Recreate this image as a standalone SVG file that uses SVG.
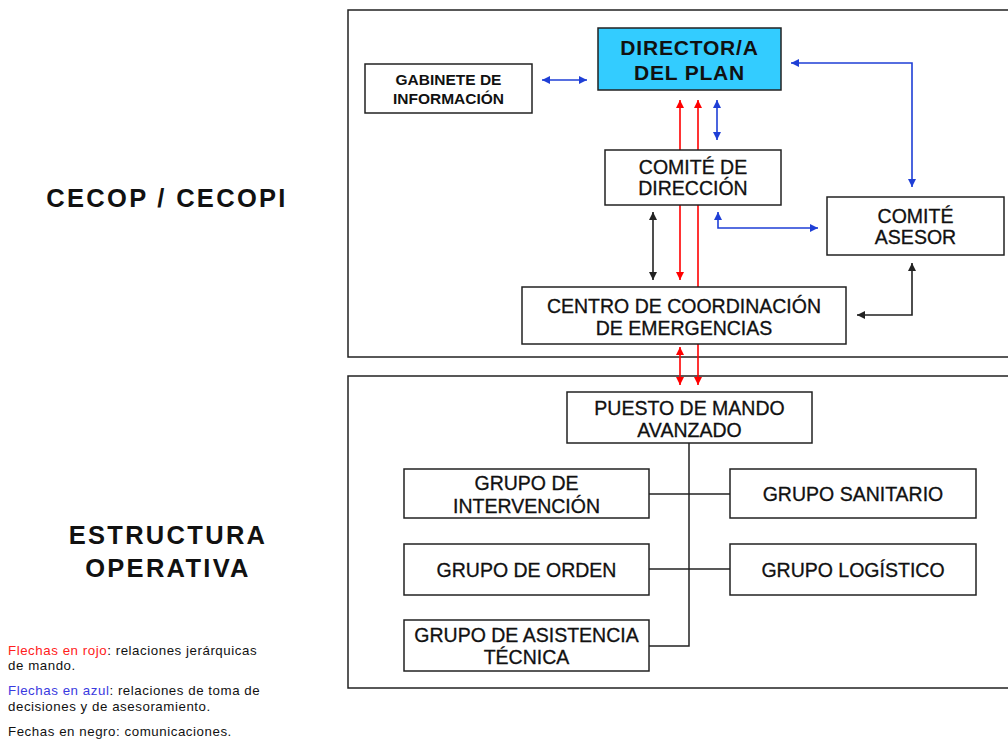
<svg xmlns="http://www.w3.org/2000/svg" width="1008" height="740" viewBox="0 0 1008 740">
<style>
.frame{fill:none;stroke:#222;stroke-width:1.5}
.box{fill:#fff;stroke:#222;stroke-width:1.5}
.dir{fill:#33ccff;stroke:#222;stroke-width:1.5}
.t{font-family:"Liberation Sans",Arial,sans-serif;font-size:19.5px;fill:#111;stroke:#111;stroke-width:0.3;text-anchor:middle}
.tb{font-family:"Liberation Sans",Arial,sans-serif;font-weight:bold;fill:#111;text-anchor:middle}
.big{font-family:"Liberation Sans",Arial,sans-serif;font-weight:bold;fill:#111;text-anchor:middle;font-size:25.5px;letter-spacing:2.3px}
.leg{font-family:"Liberation Sans",Arial,sans-serif;font-size:13.3px;letter-spacing:0.55px;fill:#111}
.red{fill:none;stroke:#ff0000;stroke-width:1.6}
.blue{fill:none;stroke:#1f3fd6;stroke-width:1.6}
.blk{fill:none;stroke:#222;stroke-width:1.6}
.tree{fill:none;stroke:#222;stroke-width:1.5}
</style>
<defs>
<marker id="ar" viewBox="0 0 10 10" refX="10" refY="5" markerWidth="8" markerHeight="8" markerUnits="userSpaceOnUse" orient="auto-start-reverse"><path d="M0,0 L10,5 L0,10 z" fill="#ff0000"/></marker>
<marker id="ab" viewBox="0 0 10 10" refX="10" refY="5" markerWidth="8" markerHeight="8" markerUnits="userSpaceOnUse" orient="auto-start-reverse"><path d="M0,0 L10,5 L0,10 z" fill="#1f3fd6"/></marker>
<marker id="ak" viewBox="0 0 10 10" refX="10" refY="5" markerWidth="8" markerHeight="8" markerUnits="userSpaceOnUse" orient="auto-start-reverse"><path d="M0,0 L10,5 L0,10 z" fill="#222"/></marker>
</defs>
<rect width="1008" height="740" fill="#fff"/>

<g id="frames">
<rect class="frame" x="348" y="10" width="670" height="347"/>
<rect class="frame" x="348" y="376" width="670" height="312"/>
</g>

<g id="side-labels">
<text class="big" x="167" y="207">CECOP / CECOPI</text>
<text class="big" x="168" y="544">ESTRUCTURA</text>
<text class="big" x="168" y="577">OPERATIVA</text>
</g>

<g id="legend">
<text class="leg" x="8" y="655"><tspan fill="#ff2020">Flechas en rojo</tspan>: relaciones jerárquicas</text>
<text class="leg" x="8" y="670">de mando.</text>
<text class="leg" x="8" y="695"><tspan fill="#3a3ae0">Flechas en azul</tspan>: relaciones de toma de</text>
<text class="leg" x="8" y="711">decisiones y de asesoramiento.</text>
<text class="leg" x="8" y="736">Fechas en negro: comunicaciones.</text>
</g>

<g id="connectors">
<line class="red" x1="680" y1="280" x2="680" y2="100" marker-start="url(#ar)" marker-end="url(#ar)"/>
<line class="red" x1="698" y1="287" x2="698" y2="100" marker-end="url(#ar)"/>
<line class="red" x1="680" y1="385" x2="680" y2="347" marker-start="url(#ar)" marker-end="url(#ar)"/>
<line class="red" x1="698" y1="344" x2="698" y2="385" marker-end="url(#ar)"/>
<line class="blue" x1="542" y1="80" x2="587" y2="80" marker-start="url(#ab)" marker-end="url(#ab)"/>
<line class="blue" x1="717" y1="100" x2="717" y2="140" marker-start="url(#ab)" marker-end="url(#ab)"/>
<polyline class="blue" points="791,63 912,63 912,187" marker-start="url(#ab)" marker-end="url(#ab)"/>
<polyline class="blue" points="718,212 718,228 818,228" marker-start="url(#ab)" marker-end="url(#ab)"/>
<line class="blk" x1="653" y1="212" x2="653" y2="280" marker-start="url(#ak)" marker-end="url(#ak)"/>
<polyline class="blk" points="857,315 912,315 912,263" marker-start="url(#ak)" marker-end="url(#ak)"/>
<polyline class="tree" points="689,443 689,646 649,646"/>
<line class="tree" x1="649" y1="494" x2="730" y2="494"/>
<line class="tree" x1="649" y1="569" x2="730" y2="569"/>
</g>

<g id="director">
<rect class="dir" x="598" y="28" width="183" height="62"/>
<text class="tb" x="689.5" y="55" font-size="21" letter-spacing="0.8">DIRECTOR/A</text>
<text class="tb" x="689.5" y="80" font-size="21" letter-spacing="0.8">DEL PLAN</text>
</g>
<g id="gabinete">
<rect class="box" x="365" y="64" width="167" height="49"/>
<text class="tb" x="448.5" y="84.5" font-size="15.5">GABINETE DE</text>
<text class="tb" x="448.5" y="104" font-size="15.5">INFORMACIÓN</text>
</g>
<g id="comite-direccion">
<rect class="box" x="605" y="150" width="176" height="55"/>
<text class="t" x="693" y="174">COMITÉ DE</text>
<text class="t" x="693" y="195">DIRECCIÓN</text>
</g>
<g id="comite-asesor">
<rect class="box" x="827" y="197" width="177" height="58"/>
<text class="t" x="915.5" y="223">COMITÉ</text>
<text class="t" x="915.5" y="244">ASESOR</text>
</g>
<g id="cce">
<rect class="box" x="522" y="287" width="324" height="57"/>
<text class="t" x="684" y="313">CENTRO DE COORDINACIÓN</text>
<text class="t" x="684" y="335">DE EMERGENCIAS</text>
</g>
<g id="pma">
<rect class="box" x="567" y="392" width="245" height="51"/>
<text class="t" x="689.5" y="415">PUESTO DE MANDO</text>
<text class="t" x="689.5" y="437">AVANZADO</text>
</g>
<g id="grupo-intervencion">
<rect class="box" x="404" y="469" width="245" height="49"/>
<text class="t" x="526.5" y="490">GRUPO DE</text>
<text class="t" x="526.5" y="513">INTERVENCIÓN</text>
</g>
<g id="grupo-sanitario">
<rect class="box" x="730" y="469" width="246" height="49"/>
<text class="t" x="853" y="501">GRUPO SANITARIO</text>
</g>
<g id="grupo-orden">
<rect class="box" x="404" y="544" width="245" height="51"/>
<text class="t" x="526.5" y="577">GRUPO DE ORDEN</text>
</g>
<g id="grupo-logistico">
<rect class="box" x="730" y="544" width="246" height="51"/>
<text class="t" x="853" y="577">GRUPO LOGÍSTICO</text>
</g>
<g id="grupo-asistencia">
<rect class="box" x="404" y="620" width="245" height="51"/>
<text class="t" x="526.5" y="642">GRUPO DE ASISTENCIA</text>
<text class="t" x="526.5" y="664">TÉCNICA</text>
</g>
</svg>
